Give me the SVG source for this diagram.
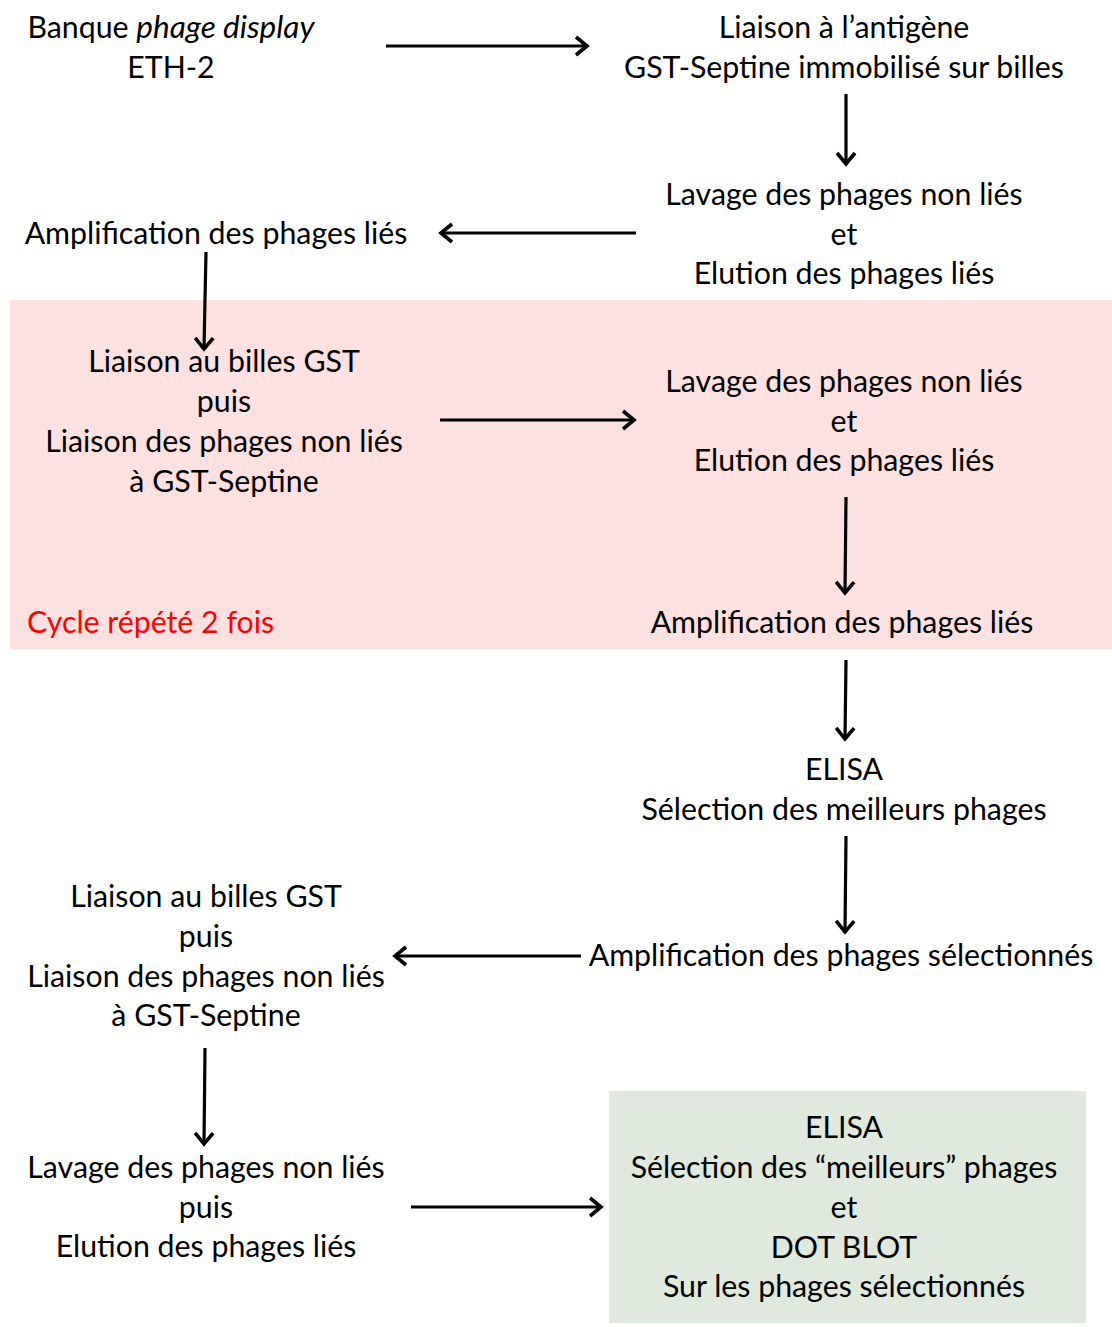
<svg xmlns="http://www.w3.org/2000/svg" width="1112" height="1327" viewBox="0 0 1112 1327">
<style>
text{font-family:Lato,"Open Sans","Liberation Sans",sans-serif;font-size:30.3px;fill:#000;text-anchor:middle}
.red{fill:#ff0000;text-anchor:start}
.conn line{stroke:#000;stroke-width:3.2;marker-end:url(#ah)}
</style>
<defs>
<marker id="ah" markerUnits="userSpaceOnUse" markerWidth="20" markerHeight="24" viewBox="-14 -12 16 24" refX="0" refY="0" orient="auto">
<path d="M-11,-9 L0,0 L-11,9" fill="none" stroke="#000" stroke-width="3.6"/>
</marker>
</defs>
<rect x="0" y="0" width="1112" height="1327" fill="#fff"/>
<g id="cycle-bg"><rect x="10" y="300" width="1102" height="349" fill="#fde1e1"/></g>
<g id="final-bg"><rect x="609" y="1091" width="477" height="232" fill="#dfe9dd"/></g>

<g id="n1"><text x="171" y="38">Banque <tspan font-style="italic" font-size="31.5px">phage display</tspan></text><text x="171" y="78">ETH-2</text></g>
<g id="n2"><text x="844" y="38">Liaison à l’antigène</text><text x="844" y="78">GST-Septine immobilisé sur billes</text></g>
<g id="n3"><text x="844" y="205">Lavage des phages non liés</text><text x="844" y="245">et</text><text x="844" y="284">Elution des phages liés</text></g>
<g id="n4"><text x="216" y="244">Amplification des phages liés</text></g>
<g id="n5"><text x="224" y="372">Liaison au billes GST</text><text x="224" y="412">puis</text><text x="224" y="452">Liaison des phages non liés</text><text x="224" y="492">à GST-Septine</text></g>
<g id="n6"><text x="844" y="392">Lavage des phages non liés</text><text x="844" y="432">et</text><text x="844" y="471">Elution des phages liés</text></g>
<g id="cycle-label"><text class="red" x="27" y="633" font-size="29.5px">Cycle répété 2 fois</text></g>
<g id="n7"><text x="842" y="633">Amplification des phages liés</text></g>
<g id="n8"><text x="844" y="780">ELISA</text><text x="844" y="820">Sélection des meilleurs phages</text></g>
<g id="n9"><text x="841" y="966">Amplification des phages sélectionnés</text></g>
<g id="n10"><text x="206" y="907">Liaison au billes GST</text><text x="206" y="947">puis</text><text x="206" y="987">Liaison des phages non liés</text><text x="206" y="1026">à GST-Septine</text></g>
<g id="n11"><text x="206" y="1178">Lavage des phages non liés</text><text x="206" y="1218">puis</text><text x="206" y="1257">Elution des phages liés</text></g>
<g id="n12"><text x="844" y="1138">ELISA</text><text x="844" y="1178">Sélection des “meilleurs” phages</text><text x="844" y="1218">et</text><text x="844" y="1258">DOT BLOT</text><text x="844" y="1297">Sur les phages sélectionnés</text></g>

<g id="connectors" class="conn">
<line x1="386" y1="46" x2="587" y2="46"/>
<line x1="846" y1="94" x2="846" y2="164"/>
<line x1="636" y1="233" x2="441" y2="233"/>
<line x1="206" y1="252" x2="204" y2="349"/>
<line x1="440" y1="420" x2="634" y2="420"/>
<line x1="846" y1="497" x2="845" y2="593"/>
<line x1="846" y1="660" x2="845" y2="739"/>
<line x1="846" y1="836" x2="845" y2="932"/>
<line x1="581" y1="956" x2="395" y2="956"/>
<line x1="205" y1="1048" x2="204" y2="1144"/>
<line x1="411" y1="1207" x2="601" y2="1207"/>
</g>
</svg>
